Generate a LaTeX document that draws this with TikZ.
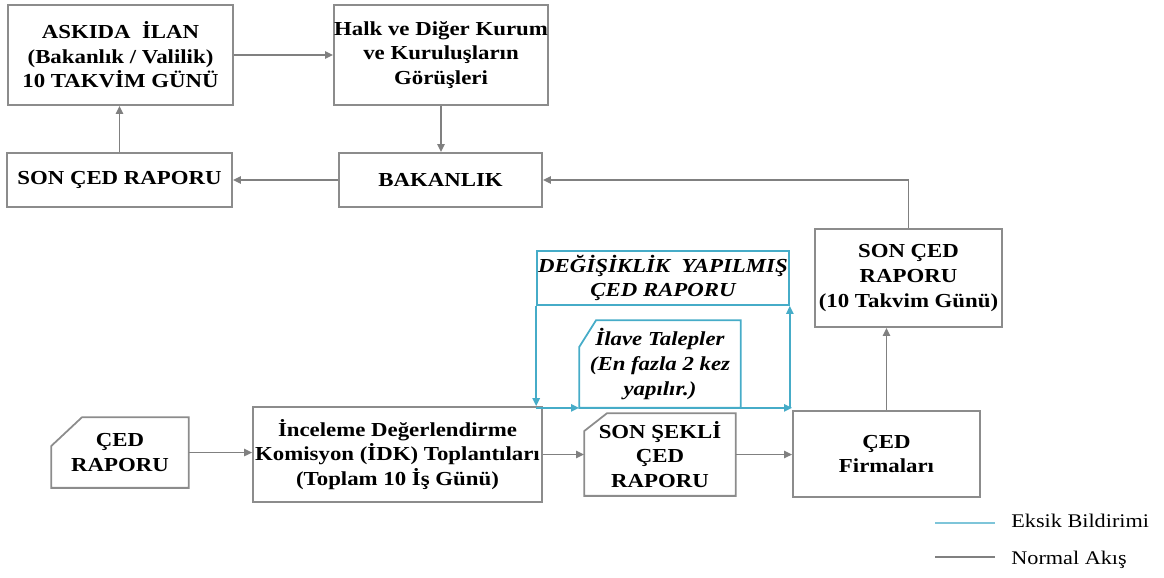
\documentclass[tikz,border=0pt]{standalone}
\usepackage{fontspec}
\setmainfont{Liberation Serif}[FakeStretch=1.15]
\usetikzlibrary{arrows.meta}
\definecolor{boxgray}{RGB}{140,140,140}
\definecolor{flowgray}{RGB}{128,128,128}
\definecolor{fixblue}{RGB}{70,172,200}
\tikzset{
	box/.style={draw=boxgray, line width=1pt, inner sep=0pt, align=center, font=\fontsize{11.3}{14}\selectfont\bfseries},
	cutbox/.style={box, draw=none},
	flow/.style={draw=flowgray, line width=1pt, -{Triangle[length=4.6pt,width=4.2pt]}},
	fix/.style={draw=fixblue, line width=1pt, -{Triangle[length=4.6pt,width=4.2pt]}},
}
\def\cutcorner[#1](#2)(#3:#4){\draw[#1] ([xshift=#3]#2.north west) -- (#2.north east) -- (#2.south east) -- (#2.south west) -- ([yshift=-#4]#2.north west) -- cycle;}

\begin{document}
\begin{tikzpicture}[x=0.02cm, y=-0.02cm]
			%%%%% START %%%%%
			\useasboundingbox (0, 0) rectangle (1164, 578);
			
			\node[box, minimum width=4.5cm, minimum height=2cm] (askida) at (120.5, 55) {ASKIDA\ \ İLAN\\(Bakanlık / Valilik)\\10 TAKVİM GÜNÜ};
			\node[box, minimum width=4.28cm, minimum height=2cm] (halk) at (441, 55) {Halk ve Diğer Kurum\\ve Kuruluşların\\Görüşleri};
			\node[box, minimum width=4.5cm, minimum height=1.08cm] (sonced) at (119.5, 180) {SON ÇED RAPORU};
			\node[box, minimum width=4.06cm, minimum height=1.08cm] (bakanlik) at (440.5, 180) {BAKANLIK};
			\node[box, minimum width=3.74cm, minimum height=1.96cm] (sonrapor) at (908.5, 278) {SON ÇED\\RAPORU\\(10 Takvim Günü)};
			
			\draw[flow] (askida.east) -- (halk.west);
			\draw[flow] (halk.south) -- (halk.south |- bakanlik.north);
			\draw[flow] (bakanlik.west) -- (sonced.east);
			\draw[flow] (sonced.north) -- (sonced.north |- askida.south);
			\draw[flow] (sonrapor.north) |- (bakanlik.east);
			
			% alt sira
			\node[cutbox, minimum width=2.72cm, minimum height=1.38cm] (cedrapor) at (120, 452.5) {ÇED\\RAPORU};
			\cutcorner[draw=boxgray, line width=1pt](cedrapor)(0.62cm:0.58cm)
			\node[box, minimum width=5.78cm, minimum height=1.9cm] (inceleme) at (397.5, 454.5) {İnceleme Değerlendirme\\Komisyon (İDK) Toplantıları\\(Toplam 10 İş Günü)};
			\node[cutbox, minimum width=3cm, minimum height=1.62cm] (sonsekli) at (660, 454.5) {SON ŞEKLİ\\ÇED\\RAPORU};
			\cutcorner[draw=boxgray, line width=1pt](sonsekli)(0.46cm:0.36cm)
			\node[box, minimum width=3.74cm, minimum height=1.72cm] (firma) at (886.5, 454) {ÇED\\Firmaları};
			
			\draw[flow] (cedrapor.east) -- (cedrapor.east -| inceleme.west);
			\draw[flow] (inceleme.east) -- (sonsekli.west);
			\draw[flow] (sonsekli.east) -- (sonsekli.east -| firma.west);
			\draw[flow] (firma.north) -- (firma.north |- sonrapor.south);
			
			% eksik bildirimi
			\node[box, draw=fixblue, font=\fontsize{11.3}{14}\selectfont\bfseries\itshape, minimum width=5.04cm, minimum height=1.08cm] (degisik) at (663, 278) {DEĞİŞİKLİK\ \ YAPILMIŞ\\ÇED RAPORU};
			\node[cutbox, font=\fontsize{11.3}{14}\selectfont\bfseries\itshape, minimum width=3.2cm, minimum height=1.72cm] (ilave) at (660, 364) {İlave Talepler\\(En fazla 2 kez\\yapılır.)};
			\cutcorner[draw=fixblue, line width=1pt](ilave)(0.34cm:0.54cm)
			
			\draw[fix] (degisik.south west) -- (degisik.south west |- inceleme.north);
			\draw[fix] (degisik.south west |- ilave.south) -- (ilave.south west);
			\draw[fix] (ilave.south east) -- (ilave.south east -| firma.west);
			\draw[fix] (degisik.south east |- ilave.south) -- (degisik.south east);
			
			% lejant
			\coordinate (e1) at (935, 523);
			\coordinate (e2) at (995, 523);
			\coordinate (n1) at (935, 557);
			\coordinate (n2) at (995, 557);
			\draw[draw=fixblue!70, line width=1.4pt] (e1) -- (e2);
			\draw[draw=flowgray, line width=1.4pt] (n1) -- (n2);
			\node[anchor=west, inner sep=0pt, font=\fontsize{11}{13}\selectfont] (eksik) at (1011, 521) {Eksik Bildirimi};
			\node[anchor=west, inner sep=0pt, font=\fontsize{11}{13}\selectfont] (normal) at (1011, 560) {Normal Akış};
			
			%%%%% END %%%%%
		\end{tikzpicture}
\end{document}
